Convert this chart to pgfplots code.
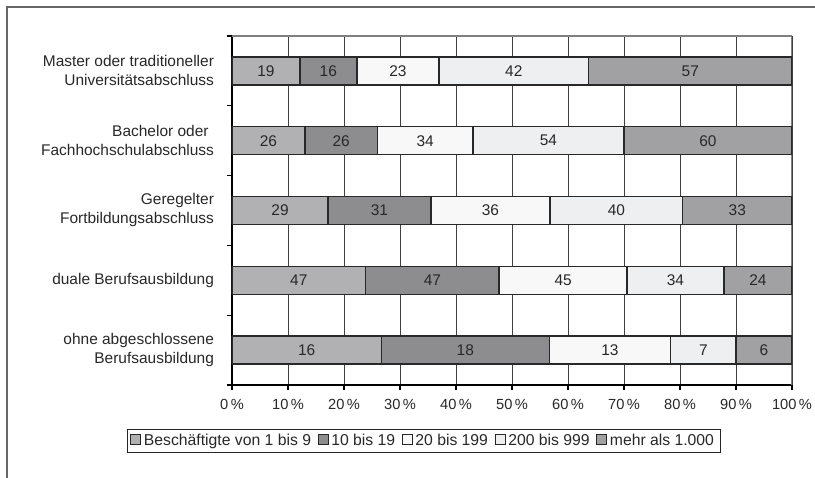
\documentclass[border=0pt]{standalone}
\usepackage{pgfplots}
\pgfplotsset{compat=1.18}
\usepackage{pgfplotstable}
\usepackage{fontspec}
\setmainfont{Liberation Sans}
\definecolor{cA}{RGB}{177,177,180}
\definecolor{cB}{RGB}{141,141,144}
\definecolor{cC}{RGB}{248,248,248}
\definecolor{cD}{RGB}{238,239,241}
\definecolor{cE}{RGB}{161,161,164}
\definecolor{bord}{RGB}{40,40,40}
\definecolor{txt}{RGB}{40,40,40}
\pgfplotstableread{
y a b c d e s
0 16 18 13 7 6 60
1 47 47 45 34 24 197
2 29 31 36 40 33 169
3 26 26 34 54 60 200
4 19 16 23 42 57 157
}\data
\begin{document}
\begin{tikzpicture}
\useasboundingbox (-174pt,-69.75pt) rectangle (437.25pt,288.75pt);
\draw[gray!80!black, line width=1.1pt] (-168.75pt,-80pt) -- (-168.75pt,283.5pt) -- (450pt,283.5pt);
\begin{axis}[
  at={(0,0)}, anchor=south west,
  scale only axis, width=420pt, height=261.75pt,
  xbar stacked, bar width=21pt,
  xmin=0, xmax=100, ymin=-0.5, ymax=4.5,
  axis x line*=bottom, axis y line*=left,
  axis line style={black, line width=0.8pt},
  tick align=outside, major tick length=4pt,
  tick style={black, line width=0.8pt},
  xtick={0,10,...,100},
  xticklabels={0\,\%,10\,\%,20\,\%,30\,\%,40\,\%,50\,\%,60\,\%,70\,\%,80\,\%,90\,\%,100\,\%},
  xticklabel style={font=\fontsize{11}{13}\selectfont, text=txt, yshift=-3pt},
  xmajorgrids, major grid style={black!75, line width=0.7pt},
  ytick={-0.5,0.5,...,4.5}, yticklabels={},
  extra y ticks={0,1,2,3,4},
  extra y tick labels={ohne abgeschlossene\\Berufsausbildung, duale Berufsausbildung, Geregelter\\Fortbildungsabschluss, Bachelor oder\hspace*{0.35em}\\Fachhochschulabschluss, Master oder traditioneller\\Universitätsabschluss},
  extra y tick style={major tick length=0pt, yticklabel style={align=right, font=\fontsize{11.6}{14.25}\selectfont, text=txt, xshift=-10pt}},
  legend style={at={(rel axis cs:0.342,-0.160)}, anchor=center, legend columns=-1, draw=black!85, line width=0.6pt, font=\fontsize{11.8}{13}\selectfont, text=txt, inner xsep=2.5pt, inner ysep=1.5pt, /tikz/every even column/.append style={column sep=3pt}},
  legend image code/.code={\draw[#1, line width=0.7pt] (0pt,-3pt) rectangle (7.5pt,4.5pt);},
  every axis plot/.append style={draw=bord, line width=1.1pt},
]
\addplot[fill=cA] table[y=y, x expr=\thisrow{a}/\thisrow{s}*100] {\data};
\addplot[fill=cB] table[y=y, x expr=\thisrow{b}/\thisrow{s}*100] {\data};
\addplot[fill=cC] table[y=y, x expr=\thisrow{c}/\thisrow{s}*100] {\data};
\addplot[fill=cD] table[y=y, x expr=\thisrow{d}/\thisrow{s}*100] {\data};
\addplot[fill=cE] table[y=y, x expr=\thisrow{e}/\thisrow{s}*100] {\data};
\legend{Beschäftigte von 1 bis 9, 10 bis 19, 20 bis 199, 200 bis 999, mehr als 1.000}
\draw[gray, line width=0.8pt] (rel axis cs:0,1) -- (rel axis cs:1,1) -- (rel axis cs:1,0);
\end{axis}
\begin{axis}[
  at={(0,0)}, anchor=south west,
  scale only axis, width=420pt, height=261.75pt,
  xmin=0, xmax=100, ymin=-0.5, ymax=4.5,
  hide axis,
  nodes near coords, point meta=explicit,
  /pgf/number format/assume math mode=true,
  nodes near coords align={center},
  every node near coord/.append style={anchor=center, font=\fontsize{11.6}{13}\selectfont, text=txt},
]
\addplot[draw=none, mark=none] table[y=y, x expr={(\thisrow{a}/2)/\thisrow{s}*100}, meta=a] {\data};
\addplot[draw=none, mark=none] table[y=y, x expr={(\thisrow{a}+\thisrow{b}/2)/\thisrow{s}*100}, meta=b] {\data};
\addplot[draw=none, mark=none] table[y=y, x expr={(\thisrow{a}+\thisrow{b}+\thisrow{c}/2)/\thisrow{s}*100}, meta=c] {\data};
\addplot[draw=none, mark=none] table[y=y, x expr={(\thisrow{a}+\thisrow{b}+\thisrow{c}+\thisrow{d}/2)/\thisrow{s}*100}, meta=d] {\data};
\addplot[draw=none, mark=none] table[y=y, x expr={(\thisrow{a}+\thisrow{b}+\thisrow{c}+\thisrow{d}+\thisrow{e}/2)/\thisrow{s}*100}, meta=e] {\data};
\end{axis}
\end{tikzpicture}
\end{document}
